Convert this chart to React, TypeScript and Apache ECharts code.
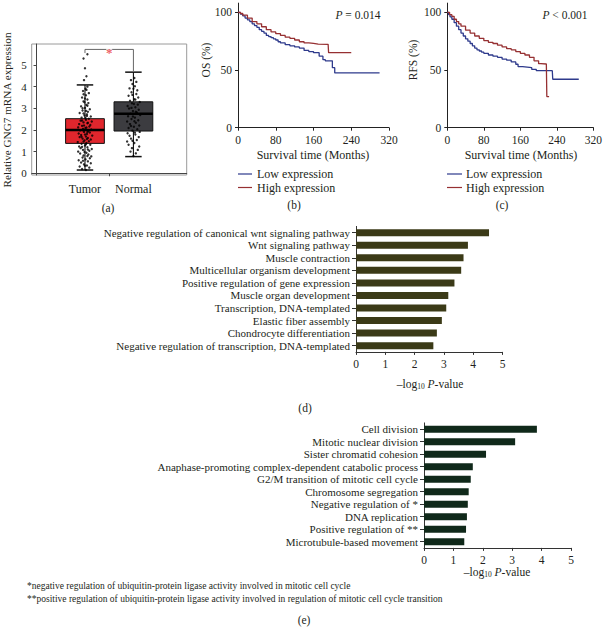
import React, { useEffect, useRef } from "react";
import * as echarts from "echarts";

const FONT = "'Liberation Serif', 'DejaVu Serif', serif";
const TXT = "#231f20";

// ---------- Panel (a): box plot ----------
const groupNames = ["Tumor", "Normal"];
const groupPos = [1, 2];
// [min, Q1, median, Q3, max]
const tumorBox = [0.15, 1.38, 2.0, 2.52, 4.08];
const normalBox = [0.77, 1.95, 2.75, 3.3, 4.67];
const boxColors = ["#e1262d", "#3c3c40"];
const aYTicks = [0, 1, 2, 3, 4, 5];
// jittered samples: [offset, value]
const tumorPoints = [
  [0.02, 0.15], [-0.06, 0.2], [0.09, 0.26], [-0.11, 0.31], [0.04, 0.36], [-0.02, 0.41], [0.12, 0.46], [-0.08, 0.5],
  [0.06, 0.55], [-0.13, 0.6], [0.01, 0.64], [0.1, 0.69], [-0.05, 0.73], [0.13, 0.78], [-0.03, 0.82], [0.07, 0.87],
  [-0.1, 0.91], [0.03, 0.95], [-0.14, 1.0], [0.09, 1.04], [-0.04, 1.08], [0.14, 1.12], [-0.09, 1.16], [0.05, 1.2],
  [-0.12, 1.24], [0.0, 1.28], [0.11, 1.32], [-0.07, 1.36], [0.03, 1.4], [-0.15, 1.44], [0.08, 1.48], [-0.01, 1.52],
  [0.12, 1.56], [-0.05, 1.6], [0.06, 1.63], [-0.11, 1.67], [0.02, 1.7], [0.15, 1.74], [-0.08, 1.77], [0.04, 1.81],
  [-0.13, 1.84], [0.1, 1.88], [-0.02, 1.91], [0.07, 1.95], [-0.1, 1.98], [0.13, 2.02], [-0.04, 2.05], [0.01, 2.09],
  [-0.14, 2.12], [0.09, 2.16], [-0.06, 2.19], [0.11, 2.23], [-0.12, 2.27], [0.05, 2.31], [-0.03, 2.35], [0.14, 2.39],
  [-0.09, 2.43], [0.02, 2.47], [0.08, 2.52], [-0.07, 2.57], [0.12, 2.62], [-0.01, 2.67], [0.04, 2.72], [-0.11, 2.78],
  [0.06, 2.84], [-0.05, 2.9], [0.1, 2.96], [0.0, 3.02], [-0.08, 3.09], [0.03, 3.16], [0.07, 3.24], [-0.03, 3.32],
  [0.05, 3.41], [-0.06, 3.5], [0.02, 3.6], [0.08, 3.7], [-0.04, 3.8], [0.01, 3.9], [0.05, 4.0], [-0.02, 4.3],
  [0.03, 4.48], [0.0, 4.85], [-0.03, 5.3], [0.05, 5.5],
  [0.0, 0.35], [-0.04, 0.58], [0.05, 0.8], [-0.01, 0.98], [0.06, 1.1], [-0.06, 1.22], [0.02, 1.34], [-0.03, 1.46],
  [0.04, 1.58], [-0.07, 1.69], [0.0, 1.79], [0.05, 1.9], [-0.05, 2.0], [0.03, 2.11], [-0.02, 2.21], [0.06, 2.33],
  [-0.06, 2.44], [0.01, 2.55], [0.04, 2.65], [-0.03, 2.76], [0.02, 2.88], [-0.05, 3.0], [0.05, 3.12], [-0.01, 3.28],
  [0.0, 3.45], [-0.03, 3.65], [0.03, 3.85],
];
const normalPoints = [
  [0.0, 0.8], [0.05, 0.92], [-0.06, 1.0], [0.09, 1.08], [-0.03, 1.16], [0.12, 1.24], [-0.1, 1.32], [0.02, 1.4],
  [-0.13, 1.47], [0.07, 1.54], [-0.05, 1.6], [0.11, 1.67], [-0.08, 1.73], [0.04, 1.79], [-0.12, 1.85], [0.13, 1.91],
  [-0.02, 1.97], [0.08, 2.03], [-0.1, 2.09], [0.01, 2.15], [0.12, 2.21], [-0.07, 2.27], [0.05, 2.33], [-0.13, 2.39],
  [0.1, 2.45], [-0.04, 2.51], [0.03, 2.57], [-0.11, 2.63], [0.14, 2.69], [-0.06, 2.75], [0.07, 2.81], [-0.01, 2.87],
  [0.11, 2.93], [-0.09, 2.99], [0.04, 3.05], [-0.12, 3.11], [0.09, 3.17], [-0.03, 3.23], [0.13, 3.29], [-0.07, 3.35],
  [0.02, 3.42], [0.1, 3.5], [-0.1, 3.58], [0.06, 3.66], [-0.04, 3.74], [0.08, 3.83], [-0.08, 3.92], [0.03, 4.02],
  [-0.02, 4.12], [0.06, 4.22], [-0.05, 4.3], [0.02, 4.4],
  [-0.02, 1.5], [0.03, 1.88], [-0.05, 2.18], [0.02, 2.4], [-0.01, 2.62], [0.05, 2.84], [-0.04, 3.02], [0.01, 3.2],
  [0.04, 3.4], [-0.02, 3.62], [0.0, 3.9],
];
const bracketX = [1, 1, 2, 2];
const bracketY = [5.55, 5.72, 5.72, 4.72];

// ---------- Panels (b), (c): Kaplan–Meier ----------
const kmYTicks = [0, 50, 100];
const osLow = [
  [0, 100], [5, 98.5], [10, 97], [15, 95], [20, 93.5], [25, 92], [30, 90], [35, 88.5], [40, 87], [45, 85],
  [50, 83.5], [55, 82], [60, 80], [65, 79], [70, 78], [75, 77], [80, 76], [85, 74.5], [90, 73.5], [100, 72],
  [110, 71], [120, 70], [130, 69], [140, 67], [150, 66], [160, 65], [168, 65], [172, 62], [180, 59], [185, 58],
  [198, 58], [200, 52], [205, 47.5], [300, 47.5],
];
const osHigh = [
  [0, 100], [5, 99], [10, 97.5], [20, 95], [30, 92], [40, 90], [50, 87.5], [60, 85], [70, 83], [80, 81.5],
  [90, 80], [100, 78.5], [110, 77.5], [120, 76], [130, 74.5], [140, 73.5], [150, 73], [160, 72.5], [170, 72.3],
  [191, 72.3], [192, 65], [240, 65],
];
const rfsLow = [
  [0, 100], [3, 98], [6, 96], [10, 94], [15, 91], [20, 88], [25, 85], [30, 82], [35, 79.5], [40, 77], [45, 75],
  [50, 73], [55, 71], [60, 69], [65, 67.5], [70, 66.5], [75, 65.5], [80, 64.5], [90, 63], [100, 62], [110, 61],
  [120, 59.5], [130, 58.5], [140, 57], [150, 55], [155, 53], [165, 52.5], [175, 52], [185, 50.5], [195, 49.4],
  [230, 49.4], [231, 42], [288, 42],
];
const rfsHigh = [
  [0, 100], [5, 98], [10, 96.5], [15, 94], [20, 92], [25, 90], [30, 88], [40, 84.5], [50, 82], [60, 79.5],
  [70, 77.5], [80, 75.5], [90, 74], [100, 73], [110, 71.5], [120, 70], [130, 68.5], [140, 67.5], [150, 66],
  [160, 64.5], [170, 63], [180, 61], [190, 58], [200, 55.5], [205, 55.2], [217, 55.2], [218, 27], [223, 27],
];
const kmColors = { low: "#2e3a8c", high: "#963032" };

// ---------- Panel (d) ----------
const dTerms = [
  "Negative regulation of canonical wnt signaling pathway",
  "Wnt signaling pathway",
  "Muscle contraction",
  "Multicellular organism development",
  "Positive regulation of gene expression",
  "Muscle organ development",
  "Transcription, DNA-templated",
  "Elastic fiber assembly",
  "Chondrocyte differentiation",
  "Negative regulation of transcription, DNA-templated",
];
const dValues = [4.54, 3.82, 3.67, 3.59, 3.36, 3.15, 3.08, 2.93, 2.76, 2.64];

// ---------- Panel (e) ----------
const eTerms = [
  "Cell division",
  "Mitotic nuclear division",
  "Sister chromatid cohesion",
  "Anaphase-promoting complex-dependent catabolic process",
  "G2/M transition of mitotic cell cycle",
  "Chromosome segregation",
  "Negative regulation of *",
  "DNA replication",
  "Positive regulation of **",
  "Microtubule-based movement",
];
const eValues = [3.84, 3.1, 2.11, 1.66, 1.59, 1.52, 1.49, 1.46, 1.43, 1.37];

const footnote1 = "*negative regulation of ubiquitin-protein ligase activity involved in mitotic cell cycle";
const footnote2 =
  "**positive regulation of ubiquitin-protein ligase activity involved in regulation of mitotic cell cycle transition";

const axisTextStyle = { color: TXT, fontFamily: FONT, fontSize: 11 };

function kmX(gridIndex: number) {
  return {
    gridIndex,
    type: "value",
    min: 0,
    max: 320,
    interval: 80,
    axisLine: { lineStyle: { color: "#222", width: 1 } },
    axisTick: { length: 3, lineStyle: { color: "#222" } },
    axisLabel: { ...axisTextStyle, fontSize: 11.5, margin: 6 },
    splitLine: { show: false },
  };
}
function kmY(gridIndex: number) {
  return {
    gridIndex,
    type: "value",
    min: 0,
    max: 108,
    axisLine: { show: true, lineStyle: { color: "#222", width: 1 } },
    axisTick: { show: true, length: 3, customValues: kmYTicks, lineStyle: { color: "#222" } },
    axisLabel: { ...axisTextStyle, fontSize: 11.5, margin: 6, customValues: kmYTicks },
    splitLine: { show: false },
  };
}
function barX(gridIndex: number) {
  return {
    gridIndex,
    type: "value",
    min: 0,
    max: 5,
    interval: 1,
    axisLine: { show: true, lineStyle: { color: "#333", width: 1 } },
    axisTick: { show: true, length: 3, lineStyle: { color: "#333" } },
    axisLabel: { ...axisTextStyle, fontSize: 11.5, margin: 6 },
    splitLine: { show: false },
  };
}
function barY(gridIndex: number, data: string[]) {
  return {
    gridIndex,
    type: "category",
    inverse: true,
    data,
    axisLine: { show: true, lineStyle: { color: "#333", width: 1 } },
    axisTick: { show: true, length: 4, alignWithLabel: true, lineStyle: { color: "#333" } },
    axisLabel: { ...axisTextStyle, fontSize: 11, margin: 6, interval: 0 },
    splitLine: { show: false },
  };
}

function kmLine(name: string, data: number[][], color: string, idx: number) {
  return {
    name,
    type: "line",
    xAxisIndex: idx,
    yAxisIndex: idx,
    data,
    step: "end",
    showSymbol: false,
    symbol: "none",
    lineStyle: { color, width: 1.3 },
    itemStyle: { color },
    z: 3,
  };
}

const text = (x: number, y: number, t: string, opts: any = {}) => ({
  type: "text",
  x,
  y,
  rotation: opts.rotation || 0,
  style: {
    text: t,
    fill: TXT,
    fontFamily: FONT,
    fontSize: opts.fontSize || 11.5,
    fontStyle: opts.fontStyle || "normal",
    align: opts.align || "center",
    verticalAlign: "middle",
    rich: opts.rich,
  },
});

const richLog = {
  sub: { fontFamily: FONT, fontSize: 7.5, fill: TXT, padding: [5, 0, 0, 0] },
  it: { fontFamily: FONT, fontSize: 11.5, fontStyle: "italic", fill: TXT },
  n: { fontFamily: FONT, fontSize: 11.5, fill: TXT },
};

export default function App() {
  const ref = useRef<HTMLDivElement>(null);
  useEffect(() => {
    if (!ref.current) return;
    const chart = echarts.init(ref.current, null, { renderer: "svg" });

    const boxData = [
      [groupPos[0], ...tumorBox],
      [groupPos[1], ...normalBox],
    ];

    const option: any = {
      animation: false,
      backgroundColor: "#ffffff",
      textStyle: { fontFamily: FONT },
      grid: [
        { left: 31.7, top: 44, width: 155, height: 131, show: true, borderColor: "#9a9a9a", borderWidth: 1, backgroundColor: "transparent" },
        { left: 238, top: 3.1, width: 151, height: 124.6 },
        { left: 447.3, top: 3.1, width: 150, height: 124.6 },
        { left: 356, top: 226.4, width: 146.5, height: 125.5 },
        { left: 424, top: 422.9, width: 147, height: 125 },
      ],
      xAxis: [
        {
          gridIndex: 0,
          type: "value",
          min: -0.1,
          max: 3.1,
          axisLine: { show: true, lineStyle: { color: "#444" } },
          axisTick: { show: true, length: 3, customValues: [1.5], lineStyle: { color: "#444" } },
          axisLabel: {
            ...axisTextStyle,
            fontSize: 12,
            margin: 8,
            customValues: groupPos,
            formatter: (v: number) => groupNames[groupPos.indexOf(v)] ?? "",
          },
          splitLine: { show: false },
        },
        kmX(1),
        kmX(2),
        barX(3),
        barX(4),
      ],
      yAxis: [
        {
          gridIndex: 0,
          type: "value",
          min: -0.08,
          max: 5.97,
          axisLine: { show: true, lineStyle: { color: "#444" } },
          axisTick: { show: true, length: 3, customValues: aYTicks, lineStyle: { color: "#444" } },
          axisLabel: { ...axisTextStyle, fontSize: 11, margin: 5, customValues: aYTicks },
          splitLine: { show: false },
        },
        kmY(1),
        kmY(2),
        barY(3, dTerms),
        barY(4, eTerms),
      ],
      series: [
        {
          type: "custom",
          xAxisIndex: 0,
          yAxisIndex: 0,
          data: boxData,
          z: 2,
          renderItem: (params: any, api: any) => {
            const x = api.value(0);
            const mn = api.value(1), q1 = api.value(2), q3 = api.value(4), mx = api.value(5);
            const hw = 0.4, cw = 0.17;
            const tl = api.coord([x - hw, q3]);
            const br = api.coord([x + hw, q1]);
            const cMin = api.coord([x, mn]);
            const cMax = api.coord([x, mx]);
            const capL = api.coord([x - cw, mn]);
            const capR = api.coord([x + cw, mn]);
            const capL2 = api.coord([x - cw, mx]);
            const capR2 = api.coord([x + cw, mx]);
            const stroke = { stroke: "#111", lineWidth: 1.1 };
            return {
              type: "group",
              children: [
                { type: "line", shape: { x1: cMax[0], y1: cMax[1], x2: cMax[0], y2: tl[1] }, style: stroke },
                { type: "line", shape: { x1: cMin[0], y1: br[1], x2: cMin[0], y2: cMin[1] }, style: stroke },
                { type: "line", shape: { x1: capL[0], y1: capL[1], x2: capR[0], y2: capR[1] }, style: { stroke: "#111", lineWidth: 1.5 } },
                { type: "line", shape: { x1: capL2[0], y1: capL2[1], x2: capR2[0], y2: capR2[1] }, style: { stroke: "#111", lineWidth: 1.5 } },
                {
                  type: "rect",
                  shape: { x: tl[0], y: tl[1], width: br[0] - tl[0], height: br[1] - tl[1] },
                  style: { fill: boxColors[params.dataIndex], stroke: "#111", lineWidth: 1 },
                },
              ],
            };
          },
        },
        {
          type: "scatter",
          xAxisIndex: 0,
          yAxisIndex: 0,
          data: tumorPoints.map(([dx, v]) => [groupPos[0] + dx, v]),
          symbolSize: 2.4,
          itemStyle: { color: "#000" },
          z: 3,
        },
        {
          type: "scatter",
          xAxisIndex: 0,
          yAxisIndex: 0,
          data: normalPoints.map(([dx, v]) => [groupPos[1] + dx, v]),
          symbolSize: 2.4,
          itemStyle: { color: "#000" },
          z: 3,
        },
        {
          type: "custom",
          xAxisIndex: 0,
          yAxisIndex: 0,
          data: boxData,
          z: 4,
          renderItem: (params: any, api: any) => {
            const x = api.value(0);
            const md = api.value(3);
            const mL = api.coord([x - 0.4, md]);
            const mR = api.coord([x + 0.4, md]);
            return { type: "line", shape: { x1: mL[0], y1: mL[1], x2: mR[0], y2: mR[1] }, style: { stroke: "#000", lineWidth: 2.6 } };
          },
        },
        {
          type: "line",
          xAxisIndex: 0,
          yAxisIndex: 0,
          data: bracketX.map((x, i) => [x, bracketY[i]]),
          symbol: "none",
          lineStyle: { color: "#666", width: 1 },
          z: 3,
        },
        {
          type: "scatter",
          xAxisIndex: 0,
          yAxisIndex: 0,
          data: [[(bracketX[1] + bracketX[2]) / 2, bracketY[1]]],
          symbol: "circle",
          symbolSize: 6,
          itemStyle: { color: "#fff" },
          label: {
            show: true,
            position: "inside",
            formatter: "*",
            color: "#e8323a",
            fontSize: 13,
            fontFamily: FONT,
            fontWeight: "bold",
            offset: [0, 3],
          },
          z: 5,
        },
        kmLine("Low expression", osLow, kmColors.low, 1),
        kmLine("High expression", osHigh, kmColors.high, 1),
        kmLine("Low expression", rfsLow, kmColors.low, 2),
        kmLine("High expression", rfsHigh, kmColors.high, 2),
        {
          type: "bar",
          xAxisIndex: 3,
          yAxisIndex: 3,
          data: dValues,
          barWidth: 7,
          itemStyle: { color: "#3b3a17" },
        },
        {
          type: "bar",
          xAxisIndex: 4,
          yAxisIndex: 4,
          data: eValues,
          barWidth: 7,
          itemStyle: { color: "#10291a" },
        },
      ],
      graphic: [
        // panel (a)
        text(7, 110, "Relative GNG7 mRNA expression", { rotation: Math.PI / 2, fontSize: 11.2 }),
        text(108, 208, "(a)"),
        // panel (b)
        text(206, 60, "OS (%)", { rotation: Math.PI / 2 }),
        text(313, 155, "Survival time (Months)", { fontSize: 12 }),
        text(358, 15, "{it|P} {n|= 0.014}", { rich: richLog }),
        { type: "line", shape: { x1: 238, y1: 174, x2: 252, y2: 174 }, style: { stroke: kmColors.low, lineWidth: 1.2 } },
        { type: "line", shape: { x1: 238, y1: 187.5, x2: 252, y2: 187.5 }, style: { stroke: kmColors.high, lineWidth: 1.2 } },
        text(257, 174, "Low expression", { align: "left", fontSize: 12 }),
        text(257, 187.5, "High expression", { align: "left", fontSize: 12 }),
        text(294, 205, "(b)"),
        // panel (c)
        text(413, 60, "RFS (%)", { rotation: Math.PI / 2 }),
        text(521, 155, "Survival time (Months)", { fontSize: 12 }),
        text(565, 15, "{it|P} {n|< 0.001}", { rich: richLog }),
        { type: "line", shape: { x1: 447, y1: 174, x2: 462, y2: 174 }, style: { stroke: kmColors.low, lineWidth: 1.2 } },
        { type: "line", shape: { x1: 447, y1: 187.5, x2: 462, y2: 187.5 }, style: { stroke: kmColors.high, lineWidth: 1.2 } },
        text(466, 174, "Low expression", { align: "left", fontSize: 12 }),
        text(466, 187.5, "High expression", { align: "left", fontSize: 12 }),
        text(502, 205, "(c)"),
        // panel (d)
        text(430, 384, "{n|\u2013log}{sub|10}{n| }{it|P}{n|-value}", { rich: richLog }),
        text(305, 408, "(d)"),
        // panel (e)
        text(497, 572, "{n|\u2013log}{sub|10}{n| }{it|P}{n|-value}", { rich: richLog }),
        text(27, 586, footnote1, { align: "left", fontSize: 9.5 }),
        text(27, 599, footnote2, { align: "left", fontSize: 9.5 }),
        text(304, 620, "(e)"),
      ],
    };

    chart.setOption(option);
    return () => chart.dispose();
  }, []);

  return (
    <div
      ref={ref}
      style={{ position: "absolute", left: 0, top: 0, width: 605, height: 628, background: "#fff" }}
    />
  );
}
